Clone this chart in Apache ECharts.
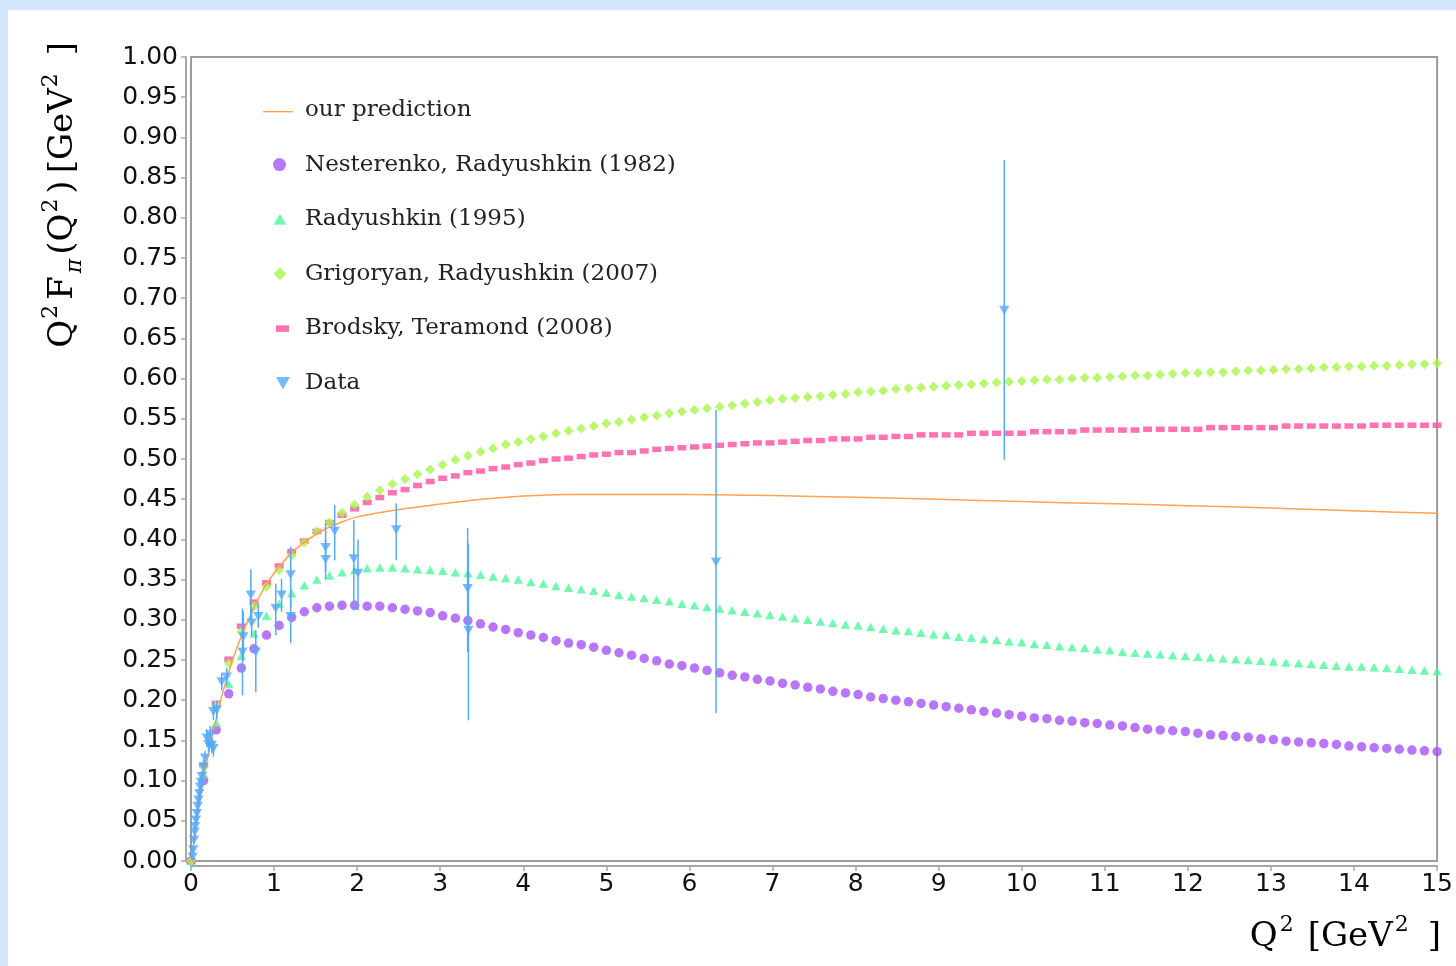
<!DOCTYPE html>
<html>
<head>
<meta charset="utf-8">
<script src="https://cdn.jsdelivr.net/npm/echarts@6/dist/echarts.min.js"></script>
<style>
  html,body{margin:0;padding:0;background:#d4e6fb;width:1456px;height:966px;overflow:hidden;}
  #chart{position:absolute;left:8px;top:10px;width:1448px;height:956px;background:#ffffff;}
</style>
</head>
<body>
<div id="chart"></div>
<script>
// ---- data ----
const q2Grid = [
  0, 0.152, 0.303, 0.455, 0.606, 0.758, 0.909, 1.061, 1.212, 1.364,
  1.515, 1.667, 1.818, 1.970, 2.121, 2.273, 2.424, 2.576, 2.727, 2.879,
  3.030, 3.182, 3.333, 3.485, 3.636, 3.788, 3.939, 4.091, 4.242, 4.394,
  4.545, 4.697, 4.848, 5.000, 5.152, 5.303, 5.455, 5.606, 5.758, 5.909,
  6.061, 6.212, 6.364, 6.515, 6.667, 6.818, 6.970, 7.121, 7.273, 7.424,
  7.576, 7.727, 7.879, 8.030, 8.182, 8.333, 8.485, 8.636, 8.788, 8.939,
  9.091, 9.242, 9.394, 9.545, 9.697, 9.848, 10.000, 10.152, 10.303, 10.455,
  10.606, 10.758, 10.909, 11.061, 11.212, 11.364, 11.515, 11.667, 11.818, 11.970,
  12.121, 12.273, 12.424, 12.576, 12.727, 12.879, 13.030, 13.182, 13.333, 13.485,
  13.636, 13.788, 13.939, 14.091, 14.242, 14.394, 14.545, 14.697, 14.848, 15.000
];
const nesterenko1982 = [
  0, 0.100, 0.163, 0.208, 0.240, 0.264, 0.281, 0.293, 0.303, 0.310,
  0.315, 0.317, 0.318, 0.318, 0.317, 0.317, 0.315, 0.313, 0.311, 0.309,
  0.305, 0.302, 0.299, 0.295, 0.291, 0.288, 0.284, 0.281, 0.278, 0.274,
  0.271, 0.269, 0.266, 0.262, 0.259, 0.256, 0.252, 0.249, 0.245, 0.243,
  0.240, 0.237, 0.234, 0.231, 0.229, 0.226, 0.224, 0.221, 0.219, 0.216,
  0.214, 0.211, 0.209, 0.207, 0.204, 0.202, 0.200, 0.198, 0.196, 0.194,
  0.192, 0.190, 0.188, 0.186, 0.184, 0.182, 0.180, 0.178, 0.177, 0.175,
  0.174, 0.172, 0.171, 0.169, 0.168, 0.166, 0.164, 0.163, 0.162, 0.161,
  0.159, 0.157, 0.156, 0.155, 0.154, 0.152, 0.151, 0.149, 0.148, 0.147,
  0.146, 0.145, 0.143, 0.142, 0.141, 0.140, 0.139, 0.138, 0.137, 0.136
];
const radyushkin1995 = [
  0, 0.108, 0.172, 0.220, 0.255, 0.283, 0.305, 0.320, 0.333, 0.343,
  0.350, 0.355, 0.359, 0.362, 0.364, 0.365, 0.365, 0.364, 0.363, 0.362,
  0.361, 0.359, 0.358, 0.356, 0.354, 0.352, 0.350, 0.347, 0.345, 0.342,
  0.340, 0.338, 0.336, 0.334, 0.331, 0.329, 0.327, 0.325, 0.323, 0.320,
  0.318, 0.316, 0.314, 0.312, 0.310, 0.308, 0.306, 0.304, 0.302, 0.300,
  0.298, 0.296, 0.294, 0.293, 0.291, 0.289, 0.287, 0.286, 0.284, 0.282,
  0.281, 0.279, 0.278, 0.276, 0.275, 0.273, 0.272, 0.270, 0.269, 0.267,
  0.266, 0.265, 0.263, 0.262, 0.260, 0.259, 0.258, 0.257, 0.256, 0.255,
  0.254, 0.253, 0.252, 0.251, 0.250, 0.249, 0.248, 0.247, 0.246, 0.245,
  0.244, 0.243, 0.242, 0.242, 0.241, 0.240, 0.239, 0.238, 0.237, 0.236
];
const grigoryan2007 = [
  0, 0.117, 0.194, 0.246, 0.285, 0.317, 0.341, 0.362, 0.380, 0.396,
  0.410, 0.421, 0.433, 0.443, 0.453, 0.461, 0.469, 0.475, 0.481, 0.487,
  0.493, 0.499, 0.504, 0.509, 0.513, 0.518, 0.521, 0.525, 0.528, 0.532,
  0.535, 0.538, 0.541, 0.544, 0.546, 0.549, 0.552, 0.554, 0.557, 0.559,
  0.561, 0.563, 0.565, 0.567, 0.569, 0.571, 0.573, 0.575, 0.576, 0.577,
  0.578, 0.580, 0.581, 0.583, 0.584, 0.585, 0.587, 0.588, 0.589, 0.590,
  0.591, 0.592, 0.593, 0.594, 0.595, 0.596, 0.597, 0.598, 0.599, 0.599,
  0.600, 0.601, 0.601, 0.602, 0.603, 0.604, 0.604, 0.605, 0.606, 0.607,
  0.607, 0.608, 0.608, 0.609, 0.610, 0.610, 0.611, 0.612, 0.612, 0.613,
  0.614, 0.614, 0.615, 0.615, 0.616, 0.616, 0.617, 0.618, 0.618, 0.619
];
const brodsky2008 = [
  0, 0.119, 0.196, 0.251, 0.292, 0.322, 0.346, 0.367, 0.385, 0.398,
  0.410, 0.421, 0.430, 0.438, 0.446, 0.452, 0.458, 0.462, 0.467, 0.472,
  0.476, 0.479, 0.483, 0.485, 0.488, 0.490, 0.493, 0.495, 0.498, 0.500,
  0.501, 0.503, 0.505, 0.506, 0.508, 0.508, 0.510, 0.512, 0.513, 0.514,
  0.515, 0.516, 0.517, 0.518, 0.519, 0.520, 0.520, 0.521, 0.522, 0.523,
  0.523, 0.525, 0.525, 0.525, 0.527, 0.527, 0.528, 0.528, 0.530, 0.530,
  0.530, 0.530, 0.532, 0.532, 0.532, 0.532, 0.532, 0.534, 0.534, 0.534,
  0.534, 0.536, 0.536, 0.536, 0.536, 0.536, 0.537, 0.537, 0.537, 0.537,
  0.537, 0.539, 0.539, 0.539, 0.539, 0.539, 0.539, 0.541, 0.541, 0.541,
  0.541, 0.541, 0.541, 0.541, 0.542, 0.542, 0.542, 0.542, 0.542, 0.542
];
const predictionQ2 = [0, 0.05, 0.1, 0.15, 0.2, 0.25, 0.3, 0.35, 0.4, 0.5, 0.6, 0.7, 0.8, 0.9, 1.0, 1.2, 1.4, 1.6, 1.8, 2.0, 2.5, 3.0, 3.5, 4.0, 4.5, 5.0, 6.0, 7.0, 8.0, 9.0, 10.0, 11.0, 12.0, 13.0, 14.0, 15.0];
const predictionVal = [0, 0.035, 0.070, 0.100, 0.128, 0.152, 0.175, 0.197, 0.216, 0.250, 0.278, 0.302, 0.324, 0.343, 0.358, 0.382, 0.399, 0.412, 0.421, 0.428, 0.437, 0.444, 0.450, 0.454, 0.456, 0.456, 0.456, 0.4545, 0.4523, 0.450, 0.447, 0.4445, 0.442, 0.439, 0.4355, 0.4324];

const dataQ2   = [0.020, 0.028, 0.036, 0.045, 0.050, 0.060, 0.070, 0.080, 0.090, 0.100, 0.110, 0.120, 0.130, 0.150, 0.170, 0.190, 0.210, 0.230, 0.250, 0.270, 0.270, 0.310, 0.370, 0.430,
                  0.62, 0.63, 0.72, 0.73, 0.78, 0.81, 1.02, 1.09, 1.20, 1.20, 1.62, 1.62, 1.73, 1.96, 2.01, 2.47, 3.33, 3.34, 6.32, 9.79];
const dataVal  = [0.005, 0.014, 0.026, 0.036, 0.043, 0.051, 0.059, 0.068, 0.076, 0.084, 0.092, 0.098, 0.105, 0.117, 0.128, 0.153, 0.145, 0.157, 0.144, 0.140, 0.186, 0.188, 0.223, 0.229,
                  0.260, 0.279, 0.331, 0.296, 0.260, 0.304, 0.314, 0.331, 0.356, 0.304, 0.390, 0.375, 0.410, 0.376, 0.358, 0.412, 0.339, 0.287, 0.372, 0.685];
const dataLow  = [0.002, 0.010, 0.021, 0.031, 0.038, 0.046, 0.054, 0.062, 0.070, 0.078, 0.085, 0.091, 0.098, 0.108, 0.119, 0.142, 0.135, 0.146, 0.134, 0.130, 0.175, 0.176, 0.212, 0.218,
                  0.206, 0.250, 0.300, 0.280, 0.210, 0.290, 0.281, 0.310, 0.316, 0.271, 0.360, 0.350, 0.374, 0.312, 0.312, 0.374, 0.260, 0.175, 0.184, 0.499];
const dataHigh = [0.008, 0.018, 0.031, 0.041, 0.048, 0.056, 0.064, 0.074, 0.082, 0.090, 0.099, 0.105, 0.112, 0.126, 0.137, 0.164, 0.155, 0.168, 0.154, 0.150, 0.197, 0.200, 0.234, 0.240,
                  0.314, 0.310, 0.363, 0.315, 0.287, 0.320, 0.345, 0.351, 0.391, 0.337, 0.420, 0.400, 0.443, 0.424, 0.400, 0.445, 0.414, 0.395, 0.561, 0.872];

const yTickValues = [0, 0.05, 0.10, 0.15, 0.20, 0.25, 0.30, 0.35, 0.40, 0.45, 0.50, 0.55, 0.60, 0.65, 0.70, 0.75, 0.80, 0.85, 0.90, 0.95, 1.00];

const seriesNames = ['our prediction', 'Nesterenko, Radyushkin (1982)', 'Radyushkin (1995)', 'Grigoryan, Radyushkin (2007)', 'Brodsky, Teramond (2008)', 'Data'];

// ---- styling ----
const C = {
  purple: '#a654f6',
  mint: '#4ff59c',
  lime: '#a9f54d',
  pink: '#ff4fa0',
  blue: '#55a9fb',
  orange: '#ffa34f'
};
const zip = (xs, ys) => xs.map((x, i) => [x, ys[i]]);

const chart = echarts.init(document.getElementById('chart'), null, { renderer: 'canvas' });

const SERIF = 'DejaVu Serif';
const rb = (extra) => Object.assign({ fontFamily: SERIF, fontSize: 34, color: '#111', lineHeight: 46, verticalAlign: 'middle' }, extra || {});
const rp = (extra) => Object.assign({ fontFamily: SERIF, fontSize: 22, color: '#111', lineHeight: 22, verticalAlign: 'top' }, extra || {});

const option = {
  animation: false,
  grid: {
    left: 183, top: 47, right: 16, bottom: 105,
    show: true, borderColor: '#9c9c9c', borderWidth: 2, backgroundColor: '#ffffff'
  },
  xAxis: {
    type: 'value', min: 0, max: 15, interval: 1, offset: 5,
    axisLine: { show: true, onZero: false, lineStyle: { color: '#a8a8a8', width: 2 } },
    axisTick: { show: true, length: 5, lineStyle: { color: '#a8a8a8', width: 1.5 } },
    axisLabel: { fontFamily: 'DejaVu Sans', fontSize: 25, color: '#111', margin: 6 },
    splitLine: { show: false }
  },
  yAxis: {
    type: 'value', min: 0, max: 1, interval: 0.05, offset: 5,
    axisLine: { show: true, onZero: false, lineStyle: { color: '#a8a8a8', width: 2 } },
    axisTick: { show: true, length: 5, lineStyle: { color: '#a8a8a8', width: 1.5 } },
    axisLabel: {
      fontFamily: 'DejaVu Sans', fontSize: 25, color: '#111', margin: 8,
      formatter: (v) => {
        const t = yTickValues.find(tv => Math.abs(tv - v) < 1e-6);
        return (t !== undefined ? t : v).toFixed(2);
      }
    },
    splitLine: { show: false }
  },
  legend: {
    orient: 'vertical', left: 250, top: 81, padding: 5,
    itemWidth: 37, itemHeight: 14, itemGap: 26.6,
    textStyle: { fontFamily: SERIF, fontSize: 23, color: '#222', lineHeight: 28 },
    data: [
      { name: seriesNames[0], icon: 'path://M0,0 M37,14 M0,8 h30 v1.4 h-30 z' },
      { name: seriesNames[1], icon: 'path://M0,0 M37,14 M10,7 a6.5,6.5 0 1,0 13,0 a6.5,6.5 0 1,0 -13,0 z' },
      { name: seriesNames[2], icon: 'path://M0,0 M37,14 M10.5,12.5 L17,1.5 L23.5,12.5 Z' },
      { name: seriesNames[3], icon: 'path://M0,0 M37,14 M17,0.5 L23.5,7 L17,13.5 L10.5,7 Z' },
      { name: seriesNames[4], icon: 'path://M0,0 M37,14 M13,4 h13 v6.5 h-13 z' },
      { name: seriesNames[5], icon: 'path://M0,0 M37,14 M13,1 h14 L20,13.5 Z' }
    ]
  },
  graphic: [
    {
      type: 'text', left: 32, top: 32, rotation: Math.PI / 2,
      style: {
        text: '{b|Q}{p|2}{f|F}{s|π}{b|(Q}{p|2}{c|)}{b|[GeV}{p|2}{e|]}',
        rich: {
          b: rb(),
          f: rb({ padding: [0, 0, 0, 3] }),
          c: rb({ padding: [0, 7, 0, 3] }),
          e: rb({ padding: [0, 0, 0, 16] }),
          p: rp({ padding: [0, 2, 0, 1] }),
          s: { fontFamily: SERIF, fontStyle: 'italic', fontSize: 22, color: '#111', lineHeight: 24, verticalAlign: 'bottom', padding: [0, 4, 0, 3] }
        }
      }
    },
    {
      type: 'text', right: 15, top: 904,
      style: {
        text: '{b|Q}{p|2}{g|[GeV}{p|2}{e|]}',
        rich: {
          b: rb(),
          g: rb({ padding: [0, 0, 0, 13] }),
          e: rb({ padding: [0, 0, 0, 18] }),
          p: rp({ padding: [0, 1, 0, 2] })
        }
      }
    }
  ],
  series: [
    {
      name: seriesNames[1], type: 'scatter', data: zip(q2Grid, nesterenko1982),
      symbol: 'circle', symbolSize: 9.5, itemStyle: { color: C.purple }, z: 2
    },
    {
      name: seriesNames[2], type: 'scatter', data: zip(q2Grid, radyushkin1995),
      symbol: 'triangle', symbolSize: [9.5, 8.5], itemStyle: { color: C.mint }, z: 2
    },
    {
      name: seriesNames[4], type: 'scatter', data: zip(q2Grid, brodsky2008),
      symbol: 'rect', symbolSize: [9, 5.5], itemStyle: { color: C.pink }, z: 2
    },
    {
      name: seriesNames[3], type: 'scatter', data: zip(q2Grid, grigoryan2007),
      symbol: 'diamond', symbolSize: [10, 10], itemStyle: { color: C.lime }, z: 2
    },
    {
      name: seriesNames[0], type: 'line', data: zip(predictionQ2, predictionVal),
      symbol: 'none', smooth: 0.3, lineStyle: { color: C.orange, width: 1.5 },
      itemStyle: { color: C.orange }, z: 3
    },
    {
      name: 'Data error', type: 'custom', z: 4, silent: true,
      data: dataQ2.map((x, i) => [x, dataLow[i], dataHigh[i]]),
      encode: { x: 0, y: [1, 2] },
      renderItem: (params, api) => {
        const a = api.coord([api.value(0), api.value(1)]);
        const b = api.coord([api.value(0), api.value(2)]);
        return { type: 'line', shape: { x1: a[0], y1: a[1], x2: b[0], y2: b[1] }, style: { stroke: C.blue, lineWidth: 1.5 } };
      }
    },
    {
      name: seriesNames[5], type: 'scatter', data: zip(dataQ2, dataVal),
      symbol: 'triangle', symbolRotate: 180, symbolSize: [10.5, 9], itemStyle: { color: C.blue }, z: 5
    }
  ]
};
chart.setOption(option);
</script>
</body>
</html>
